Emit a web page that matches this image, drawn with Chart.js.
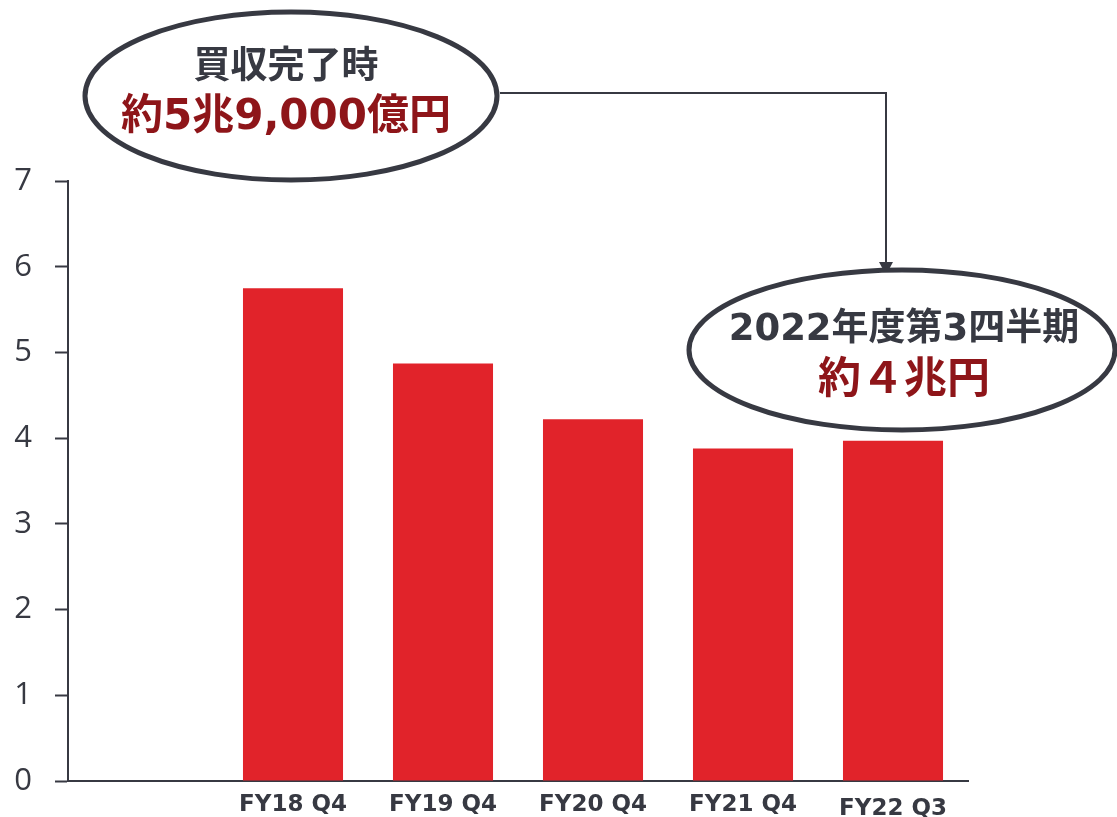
<!DOCTYPE html>
<html lang="ja">
<head>
<meta charset="utf-8">
<title>有利子負債の推移</title>
<script src="https://cdn.jsdelivr.net/npm/chart.js@4.4.1/dist/chart.umd.min.js"></script>
<style>
  html, body { margin: 0; padding: 0; background: #ffffff; overflow: hidden; }
  canvas { display: block; }
</style>
</head>
<body>
<canvas id="debt" width="1117" height="817"></canvas>
<script>
// first slot is left empty on purpose
const periods = ['', 'FY18 Q4', 'FY19 Q4', 'FY20 Q4', 'FY21 Q4', 'FY22 Q3'];
const debtTrillionYen = [null, 5.75, 4.87, 4.22, 3.88, 3.97];
const yTicks = [0, 1, 2, 3, 4, 5, 6, 7];

const calloutStart = ['買収完了時', '約5兆9,000億円'];
const calloutNow = ['2022年度第3四半期', '約４兆円'];

const INK = '#373942';
const DARK_RED = '#8e1519';
const BAR_RED = '#e1232a';
const CJK = '"DejaVu Sans", "Noto Sans CJK JP", sans-serif';

// ellipse with a dark heading and a red figure underneath
function drawBubble(ctx, b, lines) {
    ctx.save();
    ctx.beginPath();
    ctx.ellipse(b.cx, b.cy, b.rx, b.ry, 0, 0, Math.PI * 2);
    ctx.fillStyle = '#ffffff';
    ctx.fill();
    ctx.lineWidth = 5;
    ctx.strokeStyle = INK;
    ctx.stroke();
    ctx.textAlign = 'center';
    ctx.textBaseline = 'middle';
    ctx.font = 'bold ' + b.size1 + 'px ' + CJK;
    ctx.fillStyle = INK;
    ctx.fillText(lines[0], b.tx, b.y1);
    ctx.font = 'bold ' + b.size2 + 'px ' + CJK;
    ctx.fillStyle = DARK_RED;
    ctx.fillText(lines[1], b.tx, b.y2);
    ctx.restore();
}

const callouts = {
    id: 'callouts',
    afterDraw(chart) {
        const ctx = chart.ctx;

        // connector with arrow head
        ctx.save();
        ctx.strokeStyle = INK;
        ctx.fillStyle = INK;
        ctx.lineWidth = 2;
        ctx.beginPath();
        ctx.moveTo(500, 93);
        ctx.lineTo(886, 93);
        ctx.lineTo(886, 265);
        ctx.stroke();
        ctx.beginPath();
        ctx.moveTo(879, 262);
        ctx.lineTo(893, 262);
        ctx.lineTo(886, 275);
        ctx.closePath();
        ctx.fill();
        ctx.restore();

        drawBubble(ctx, { cx: 291, cy: 96, rx: 206, ry: 84, tx: 286, y1: 68, y2: 118, size1: 37, size2: 42 }, calloutStart);
        drawBubble(ctx, { cx: 902, cy: 350, rx: 213, ry: 80, tx: 904, y1: 330, y2: 382, size1: 37, size2: 43 }, calloutNow);
    }
};

new Chart(document.getElementById('debt'), {
    type: 'bar',
    data: {
        labels: periods,
        datasets: [{
            data: debtTrillionYen,
            backgroundColor: BAR_RED,
            borderWidth: 0,
            barPercentage: 0.667,
            categoryPercentage: 1.0
        }]
    },
    options: {
        responsive: false,
        animation: false,
        layout: { padding: { top: 181, right: 149, left: 0, bottom: 0 } },
        plugins: {
            legend: { display: false },
            tooltip: { enabled: false }
        },
        scales: {
            x: {
                afterFit(scale) { scale.height = 36; },
                grid: { display: false },
                border: { display: true, color: INK, width: 2 },
                ticks: {
                    color: INK,
                    maxRotation: 0,
                    autoSkip: false,
                    padding: 2,
                    // the last label sits a little lower
                    font: (c) => ({
                        family: '"DejaVu Sans", sans-serif',
                        size: 23,
                        weight: 'bold',
                        lineHeight: c.index === 5 ? 1.6 : 1.2
                    })
                }
            },
            y: {
                min: 0,
                max: 7,
                afterFit(scale) {
                    scale.width = 68;
                    // keep the label overhang from pushing the plot up
                    scale.paddingTop = 0;
                    scale.paddingBottom = 0;
                },
                afterBuildTicks(scale) {
                    scale.ticks = yTicks.map(v => ({ value: v }));
                },
                grid: {
                    drawOnChartArea: false,
                    drawTicks: true,
                    tickLength: 13,
                    tickColor: INK,
                    tickWidth: 2
                },
                border: { display: true, color: INK, width: 2 },
                ticks: {
                    color: INK,
                    padding: 23,
                    font: { family: '"Open Sans", sans-serif', size: 31 }
                }
            }
        }
    },
    plugins: [callouts]
});
</script>
</body>
</html>
